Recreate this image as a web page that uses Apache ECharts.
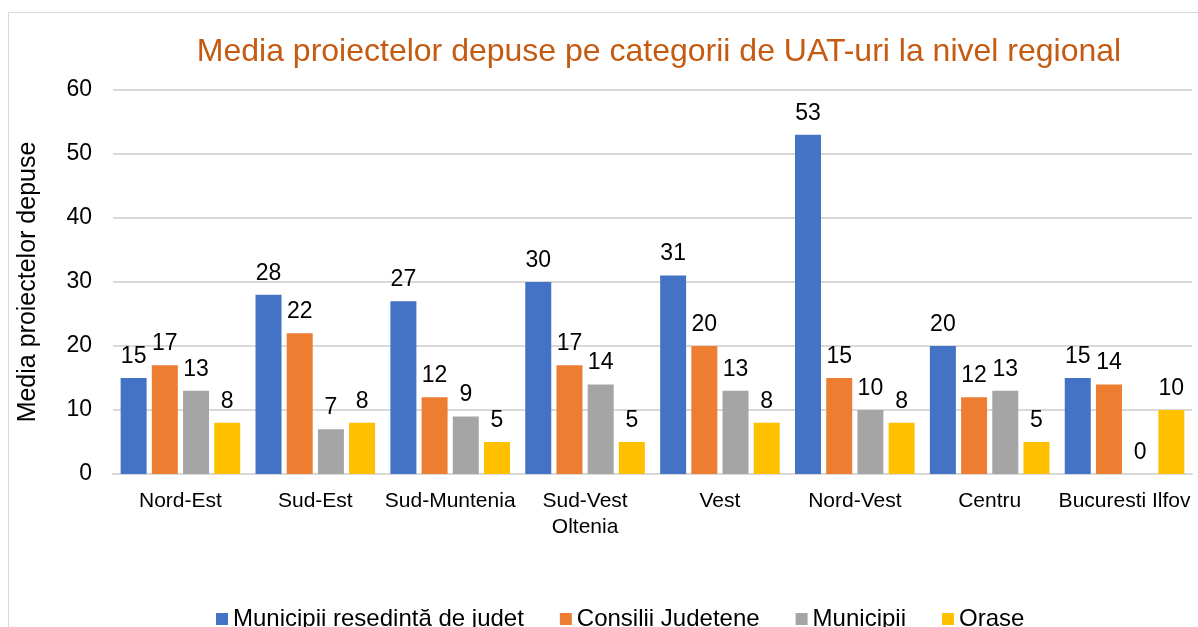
<!DOCTYPE html>
<html>
<head>
<meta charset="utf-8">
<script src="https://cdn.jsdelivr.net/npm/echarts@6/dist/echarts.min.js"></script>
<style>
  html, body { margin: 0; padding: 0; background: #fff; overflow: hidden; }
  #chart { width: 1198px; height: 627px; }
</style>
</head>
<body>
<div id="chart"></div>
<script>
// Regions (x axis categories)
const regions = ["Nord-Est", "Sud-Est", "Sud-Muntenia", "Sud-Vest\nOltenia", "Vest", "Nord-Vest", "Centru", "Bucuresti Ilfov"];

// Average number of submitted projects per UAT category
const resedinta = [15, 28, 27, 30, 31, 53, 20, 15];
const consilii = [17, 22, 12, 17, 20, 15, 12, 14];
const municipii = [13, 7, 9, 14, 13, 10, 13, 0];
const orase = [8, 8, 5, 5, 8, 8, 5, 10];

const seriesNames = ["Municipii reședință de județ", "Consilii Județene", "Municipii", "Orașe"];
const seriesColors = ["#4472C4", "#ED7D31", "#A5A5A5", "#FFC000"];

const FONT = "'Liberation Sans', Arial, sans-serif";

function makeBar(name, data, color) {
  return {
    name: name,
    type: "bar",
    data: data,
    barWidth: 26,
    barGap: "20%",
    itemStyle: { color: color },
    label: {
      show: true,
      position: "top",
      distance: 10,
      color: "#000",
      fontSize: 23,
      fontFamily: FONT,
    },
  };
}

const chart = echarts.init(document.getElementById("chart"));

const option = {
  animation: false,
  textStyle: { fontFamily: FONT },
  title: {
    text: "Media proiectelor depuse pe categorii de UAT-uri la nivel regional",
    left: 654,
    textAlign: "center",
    top: 31,
    textStyle: { color: "#C55A11", fontSize: 32, fontWeight: "normal", fontFamily: FONT },
  },
  graphic: [
    {
      type: "rect",
      shape: { x: 8.5, y: 12.5, width: 1300, height: 700 },
      style: { fill: "none", stroke: "#d9d9d9", lineWidth: 1 },
      silent: true,
    },
  ],
  legend: {
    left: 211,
    top: 602,
    itemWidth: 12,
    itemHeight: 12,
    itemGap: 36,
    icon: "rect",
    textStyle: { color: "#000", fontSize: 24, fontFamily: FONT },
    data: seriesNames,
  },
  grid: { left: 113, right: 6, top: 90, bottom: 153, containLabel: false },
  xAxis: {
    type: "category",
    data: regions,
    axisLine: { lineStyle: { color: "#d9d9d9", width: 2 } },
    axisTick: { show: false },
    axisLabel: { color: "#000", fontSize: 21, margin: 14, lineHeight: 26, interval: 0, fontFamily: FONT },
  },
  yAxis: {
    type: "value",
    min: 0,
    max: 60,
    interval: 10,
    name: "Media proiectelor depuse",
    nameLocation: "middle",
    nameGap: 72,
    nameTextStyle: { color: "#000", fontSize: 25, fontFamily: FONT },
    axisLine: { show: false },
    axisTick: { show: false },
    axisLabel: { color: "#000", fontSize: 23, margin: 21, fontFamily: FONT },
    splitLine: { lineStyle: { color: "#d9d9d9", width: 2 } },
  },
  series: [
    makeBar(seriesNames[0], resedinta, seriesColors[0]),
    makeBar(seriesNames[1], consilii, seriesColors[1]),
    makeBar(seriesNames[2], municipii, seriesColors[2]),
    makeBar(seriesNames[3], orase, seriesColors[3]),
  ],
};

chart.setOption(option);
</script>
</body>
</html>
